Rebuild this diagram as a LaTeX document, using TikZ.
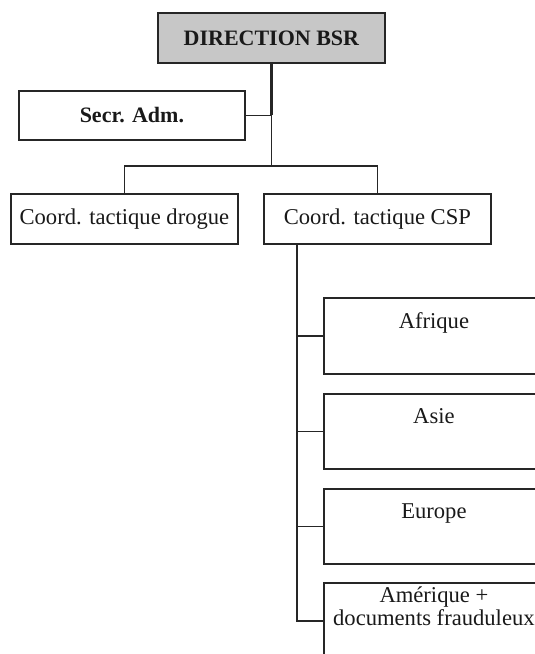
\documentclass[tikz,border=0pt]{standalone}
\usepackage{fontspec}
\setmainfont{Liberation Serif}
\begin{document}
\begin{tikzpicture}[x=1pt,y=-1pt,
  box/.style={draw=black!85,line width=1.8pt,anchor=north west,inner sep=0pt,
    align=center,font=\fontsize{22.6}{23}\selectfont,text=black!90},
  link/.style={draw=black!85,line width=1.8pt},
  thicklink/.style={draw=black!85,line width=2.8pt}]
\useasboundingbox (0,0) rectangle (535,654);
\clip (0,0) rectangle (535,654);
\node[box,fill=black!22,minimum width=227pt,minimum height=50pt,font=\fontsize{22}{23}\selectfont\bfseries] (dir) at (157,12) {DIRECTION BSR};
\node[box,minimum width=226pt,minimum height=49pt,font=\fontsize{22}{23}\selectfont\bfseries] (secr) at (18,90) {Secr. Adm.};
\node[box,minimum width=227pt,minimum height=50pt] (drogue) at (10,193) {Coord. tactique drogue};
\node[box,minimum width=227pt,minimum height=50pt] (csp) at (263,193) {Coord. tactique CSP};
\node[box,minimum width=220pt,minimum height=76pt] (afr) at (323,297) {Afrique\\\strut};
\node[box,minimum width=220pt,minimum height=75pt] (asie) at (323,393) {Asie\\\strut};
\node[box,minimum width=220pt,minimum height=75pt] (eur) at (323,488) {Europe\\\strut};
\node[box,minimum width=220pt,minimum height=76pt] (amer) at (323,582) {Amérique +\\documents frauduleux\\\strut};
\coordinate (j1) at (secr.east -| dir.south);
\coordinate (j2) at ([yshift=27pt]drogue.north -| dir.south);
\coordinate (cspout) at ([xshift=34pt]csp.south west);
\draw[thicklink] (dir.south) -- (j1);
\draw[link] (secr.east) -- (j1) -- (j2);
\draw[link] (j2) -| (drogue.north);
\draw[link] (j2) -| (csp.north);
\draw[link] (cspout) |- (amer.west);
\draw[link] (afr.west) -- (afr.west -| cspout);
\draw[link] (asie.west) -- (asie.west -| cspout);
\draw[link] (eur.west) -- (eur.west -| cspout);
\end{tikzpicture}
\end{document}
